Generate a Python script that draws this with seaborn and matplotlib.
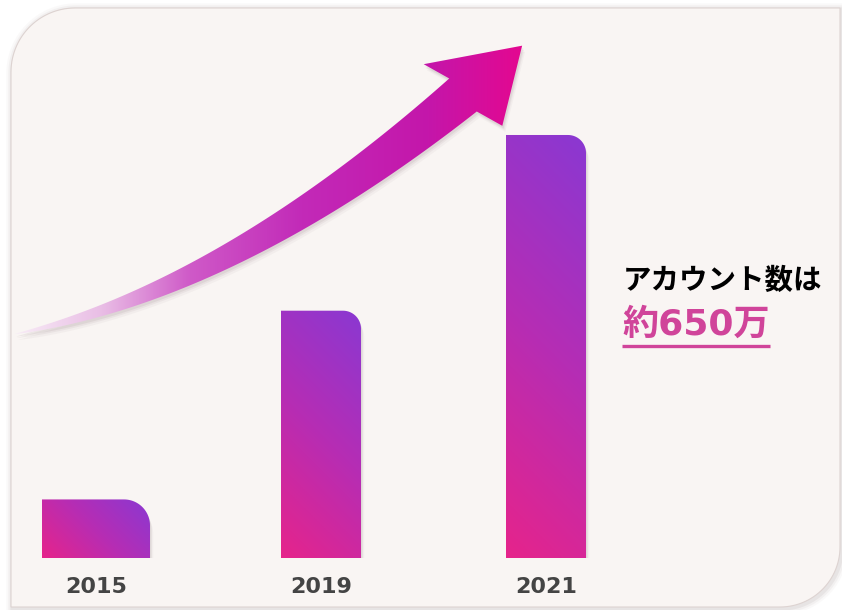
import numpy as np
import seaborn as sns
import matplotlib.pyplot as plt
from matplotlib.path import Path
from matplotlib.patches import PathPatch, Polygon
from matplotlib.colors import LinearSegmentedColormap

# data (accounts in 万)
years = ['2015', '2019', '2021']
accounts = [90, 380, 650]
headline = 'アカウント数は'
highlight = '約650万'

W, H = 842, 610
BG = '#f9f5f3'
PINK = '#d0449a'
bar_cmap = LinearSegmentedColormap.from_list('bar', ['#e6248b', '#b62db4', '#8a38d2'])
arrow_cmap = LinearSegmentedColormap.from_list(
    'arrow', [(0, '#f8ecf6'), (0.17, '#e9bde5'), (0.34, '#cf5ac8'),
              (0.56, '#c22ab8'), (0.81, '#c416aa'), (1, '#e5078f')])

sns.set_theme(style='white')
plt.rcParams['font.family'] = ['DejaVu Sans', 'Noto Sans CJK JP']

fig = plt.figure(figsize=(W / 100, H / 100), dpi=100)
fig.patch.set_facecolor('white')

# background axes in pixel coords
bg = fig.add_axes([0, 0, 1, 1], zorder=0)


def frame_points(l, t, r, b, r1, r2):
    a1 = np.linspace(np.pi, 1.5 * np.pi, 30)
    a2 = np.linspace(0, 0.5 * np.pi, 30)
    tl = np.c_[l + r1 + r1 * np.cos(a1), t + r1 + r1 * np.sin(a1)]
    br = np.c_[r - r2 + r2 * np.cos(a2), b - r2 + r2 * np.sin(a2)]
    return np.vstack([tl, [[r, t]], br, [[l, b]]])


frame = frame_points(11, 8, 840, 607, 64, 60)
for lw, al in [(9, 0.03), (6, 0.05), (3, 0.08)]:
    bg.add_patch(Polygon(frame + [1.5, 1.5], closed=True, fill=False,
                         edgecolor='#6e5a58', lw=lw, alpha=al))
bg.add_patch(Polygon(frame, closed=True, facecolor=BG, edgecolor='#ddd3d1', lw=0.8))

# curved arrow
P0, P1, P2 = np.array([15., 334.]), np.array([228., 291.]), np.array([463., 95.])
t = np.linspace(0, 1, 200)[:, None]
B = (1 - t) ** 2 * P0 + 2 * (1 - t) * t * P1 + t ** 2 * P2
dB = 2 * (1 - t) * (P1 - P0) + 2 * t * (P2 - P1)
d = dB / np.linalg.norm(dB, axis=1, keepdims=True)
n = np.c_[-d[:, 1], d[:, 0]]
w = 43 * t ** 0.85
upper = B + n * w / 2
lower = B - n * w / 2
de, ne = d[-1], n[-1]
bvec = 0.977 * ne + 0.209 * de
arrow_pts = np.vstack([upper, [P2 + 50 * bvec], [P2 + 77 * de], [P2 - 50 * bvec], lower[::-1]])
for off, al in [(6, 0.04), (4, 0.06), (2.5, 0.08)]:
    bg.add_patch(Polygon(arrow_pts + [off * 0.5, off], closed=True,
                         facecolor='#5a4048', edgecolor='none', alpha=al))
arrow_patch = Polygon(arrow_pts, closed=True, facecolor='none', edgecolor='none')
bg.add_patch(arrow_patch)
grad = np.tile(np.linspace(0, 1, 256), (2, 1))
im = bg.imshow(grad, cmap=arrow_cmap, extent=(15, 527, 345, 38), aspect='auto',
               origin='upper', interpolation='bilinear', zorder=2)
im.set_clip_path(arrow_patch)

bg.set_xlim(0, W)
bg.set_ylim(H, 0)
bg.axis('off')

# texts
bg.text(623, 281, headline, fontsize=20.5, fontweight='bold', color='black',
        va='center', ha='left', family=['Noto Sans CJK JP'])
hl = bg.text(622, 325, highlight, fontsize=26, fontweight='bold', color=PINK,
             va='center', ha='left', family=['DejaVu Sans', 'Noto Sans CJK JP'])
fig.canvas.draw()
bb = hl.get_window_extent()
bg.plot([bb.x0, bb.x1], [346, 346], color=PINK, lw=2.4, solid_capstyle='butt')

# bars
px_x, span_y, ymax = 225, 530, 814.4
ax = fig.add_axes([6 / W, 52 / H, 630 / W, span_y / H], zorder=1)
sns.barplot(x=years, y=accounts, ax=ax, width=80 / px_x, color='#b62db4')
ax.set_xlim(-0.4, 2.4)
ax.set_ylim(0, ymax)
px_y = span_y / ymax

bar_px_w = [108, 80, 80]
bar_px_r = [26, 18, 18]
for i, p in enumerate(ax.patches):
    p.set_visible(False)
    cx = p.get_x() + p.get_width() / 2
    h = p.get_height()
    bw = bar_px_w[i] / px_x
    x0, x1 = cx - bw / 2, cx + bw / 2
    rx, ry = bar_px_r[i] / px_x, bar_px_r[i] / px_y
    a = np.linspace(0, np.pi / 2, 25)
    arc = np.c_[x1 - rx + rx * np.cos(a), h - ry + ry * np.sin(a)]
    verts = np.vstack([[[x0, 0], [x1, 0]], arc, [[x0, h], [x0, 0]]])
    for s, al in [(8, 0.04), (5, 0.05), (3, 0.07)]:
        sh = verts + [s * 0.4 / px_x, -s / px_y]
        ax.add_patch(PathPatch(Path(sh), facecolor='#5a4048', edgecolor='none', alpha=al, zorder=2))
    bar_patch = PathPatch(Path(verts), facecolor='none', edgecolor='none', zorder=3)
    ax.add_patch(bar_patch)
    wpx, hpx = bar_px_w[i], h * px_y
    u = np.linspace(0, 1, 120)[None, :]
    v = np.linspace(0, 1, 240)[:, None]
    g = (u * wpx + v * hpx) / (wpx + hpx)
    bim = ax.imshow(g, cmap=bar_cmap, vmin=0, vmax=1, origin='lower', aspect='auto',
                    extent=(x0, x1, 0, h), zorder=3, interpolation='bilinear')
    bim.set_clip_path(bar_patch)

ax.set_xlim(-0.4, 2.4)
ax.set_ylim(0, ymax)
ax.set_yticks([])
ax.set_xlabel('')
ax.set_ylabel('')
ax.patch.set_alpha(0)
for sp in ax.spines.values():
    sp.set_visible(False)
ax.tick_params(axis='x', length=0, pad=14, labelsize=16, labelcolor='#444444')
for lab in ax.get_xticklabels():
    lab.set_fontweight('bold')
    lab.set_fontfamily('DejaVu Sans')

fig.savefig('out.png', dpi=100)
